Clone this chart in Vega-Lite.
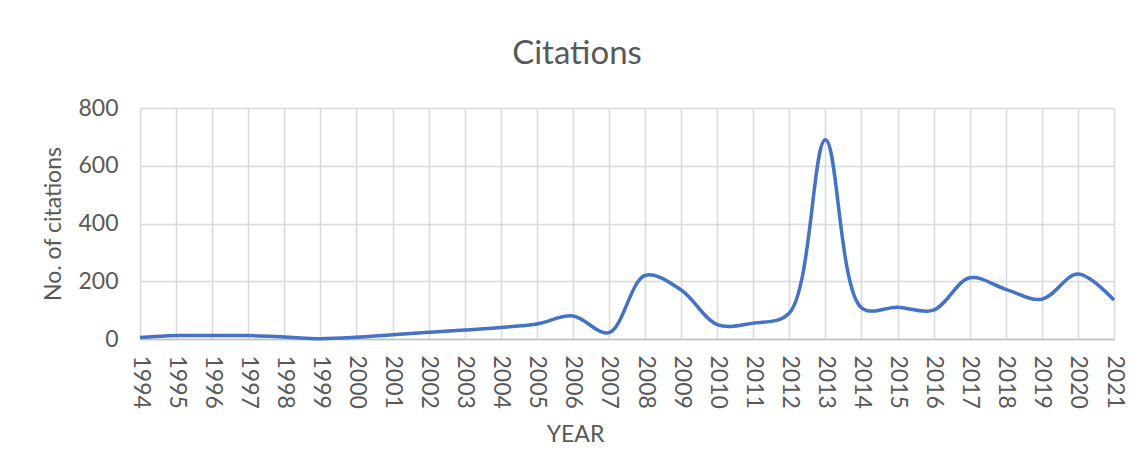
{
  "$schema": "https://vega.github.io/schema/vega-lite/v6.json",
  "autosize": "none",
  "width": 974,
  "height": 231,
  "padding": {"left": 140, "top": 108, "right": 18, "bottom": 113},
  "background": "white",
  "config": {
    "font": "Lato",
    "view": {"stroke": null},
    "axis": {"labelColor": "#595959", "titleColor": "#595959", "titleFontWeight": "normal"}
  },
  "title": {
    "text": "Citations",
    "fontSize": 33,
    "fontWeight": "normal",
    "color": "#595959",
    "font": "Lato",
    "anchor": "middle",
    "dx": -50,
    "offset": 26
  },
  "data": {
    "values": [
      {"year": "1994", "citations": 5},
      {"year": "1995", "citations": 12},
      {"year": "1996", "citations": 12},
      {"year": "1997", "citations": 12},
      {"year": "1998", "citations": 7},
      {"year": "1999", "citations": 1},
      {"year": "2000", "citations": 6},
      {"year": "2001", "citations": 15},
      {"year": "2002", "citations": 23},
      {"year": "2003", "citations": 31},
      {"year": "2004", "citations": 40},
      {"year": "2005", "citations": 52},
      {"year": "2006", "citations": 80},
      {"year": "2007", "citations": 22},
      {"year": "2008", "citations": 220},
      {"year": "2009", "citations": 170},
      {"year": "2010", "citations": 50},
      {"year": "2011", "citations": 55},
      {"year": "2012", "citations": 90},
      {"year": "2013", "citations": 690},
      {"year": "2014", "citations": 108},
      {"year": "2015", "citations": 110},
      {"year": "2016", "citations": 100},
      {"year": "2017", "citations": 212},
      {"year": "2018", "citations": 172},
      {"year": "2019", "citations": 138},
      {"year": "2020", "citations": 225},
      {"year": "2021", "citations": 135}
    ]
  },
  "mark": {"type": "line", "color": "#4472C4", "strokeWidth": 3.5, "interpolate": "catmull-rom"},
  "encoding": {
    "x": {
      "field": "year",
      "type": "ordinal",
      "scale": {"type": "point", "padding": 0},
      "axis": {
        "title": "YEAR",
        "titleFontSize": 23,
        "titlePadding": 15,
        "titleX": 435,
        "labelAngle": 90,
        "labelAlign": "left",
        "labelBaseline": "middle",
        "labelFontSize": 23,
        "labelPadding": 16,
        "ticks": false,
        "grid": true,
        "gridColor": "#d9d9d9",
        "gridWidth": 1.5,
        "domainColor": "#bfbfbf",
        "domainWidth": 1.5
      }
    },
    "y": {
      "field": "citations",
      "type": "quantitative",
      "scale": {"domain": [0, 800], "nice": false},
      "axis": {
        "title": "No. of citations",
        "titleFontSize": 23,
        "titlePadding": 12,
        "values": [0, 200, 400, 600, 800],
        "labelFontSize": 23,
        "labelPadding": 22,
        "ticks": false,
        "domain": false,
        "grid": true,
        "gridColor": "#d9d9d9",
        "gridWidth": 1.5
      }
    }
  }
}
